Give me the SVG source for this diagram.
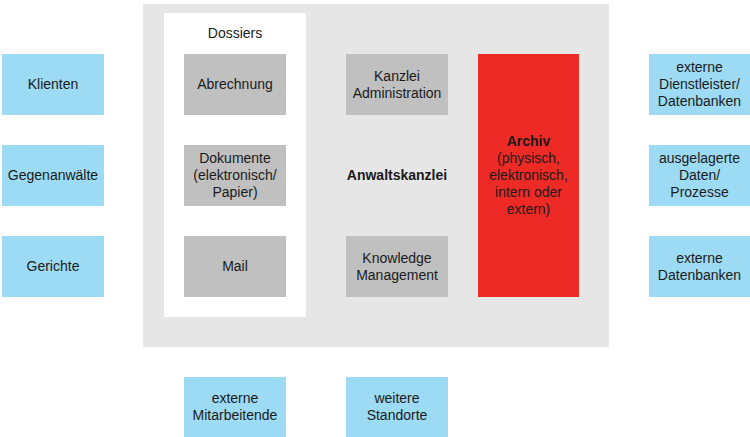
<svg xmlns="http://www.w3.org/2000/svg" width="750" height="437" viewBox="0 0 750 437">
<style>
text{font-family:"Liberation Sans",Arial,sans-serif;font-size:14px;fill:#1a1a1a;text-anchor:middle}
.b{font-weight:bold}
.ext{fill:#9ddaf3}
.int{fill:#c0c0c0}
</style>
<rect id="kanzlei-bg" x="143" y="4" width="466" height="343" fill="#e6e6e6"/>
<g id="anwaltskanzlei"><text class="b" x="397" y="180">Anwaltskanzlei</text></g>
<g id="dossiers">
<rect x="164" y="13" width="142" height="304" fill="#ffffff"/>
<text x="235" y="38">Dossiers</text>
</g>
<g id="connectors"></g>
<g id="klienten"><rect class="ext" x="2" y="54" width="102" height="61"/><text x="53" y="89">Klienten</text></g>
<g id="gegenanwaelte"><rect class="ext" x="2" y="145" width="102" height="61"/><text x="53" y="180">Gegenanwälte</text></g>
<g id="gerichte"><rect class="ext" x="2" y="236" width="102" height="61"/><text x="53" y="271">Gerichte</text></g>
<g id="abrechnung"><rect class="int" x="184" y="54" width="102" height="61"/><text x="235" y="89">Abrechnung</text></g>
<g id="dokumente"><rect class="int" x="184" y="145" width="102" height="61"/><text x="235" y="163">Dokumente</text><text x="235" y="180">(elektronisch/</text><text x="235" y="197">Papier)</text></g>
<g id="mail"><rect class="int" x="184" y="236" width="102" height="61"/><text x="235" y="271">Mail</text></g>
<g id="kanzlei-admin"><rect class="int" x="346" y="54" width="102" height="61"/><text x="397" y="81">Kanzlei</text><text x="397" y="98">Administration</text></g>
<g id="knowledge"><rect class="int" x="346" y="236" width="102" height="61"/><text x="397" y="263">Knowledge</text><text x="397" y="280">Management</text></g>
<g id="archiv"><rect x="478" y="54" width="101" height="243" fill="#ee2a27"/>
<text class="b" x="528.5" y="146">Archiv</text><text x="528.5" y="163">(physisch,</text><text x="528.5" y="180">elektronisch,</text><text x="528.5" y="197">intern oder</text><text x="528.5" y="214">extern)</text></g>
<g id="ext-dienstleister"><rect class="ext" x="649" y="54" width="101" height="61"/><text x="699.5" y="72">externe</text><text x="699.5" y="89">Dienstleister/</text><text x="699.5" y="106">Datenbanken</text></g>
<g id="ausgelagerte"><rect class="ext" x="649" y="145" width="101" height="61"/><text x="699.5" y="163">ausgelagerte</text><text x="699.5" y="180">Daten/</text><text x="699.5" y="197">Prozesse</text></g>
<g id="ext-datenbanken"><rect class="ext" x="649" y="236" width="101" height="61"/><text x="699.5" y="263">externe</text><text x="699.5" y="280">Datenbanken</text></g>
<g id="ext-mitarbeitende"><rect class="ext" x="184" y="377" width="102" height="61"/><text x="235" y="403">externe</text><text x="235" y="420">Mitarbeitende</text></g>
<g id="weitere-standorte"><rect class="ext" x="346" y="377" width="102" height="61"/><text x="397" y="403">weitere</text><text x="397" y="420">Standorte</text></g>
</svg>
